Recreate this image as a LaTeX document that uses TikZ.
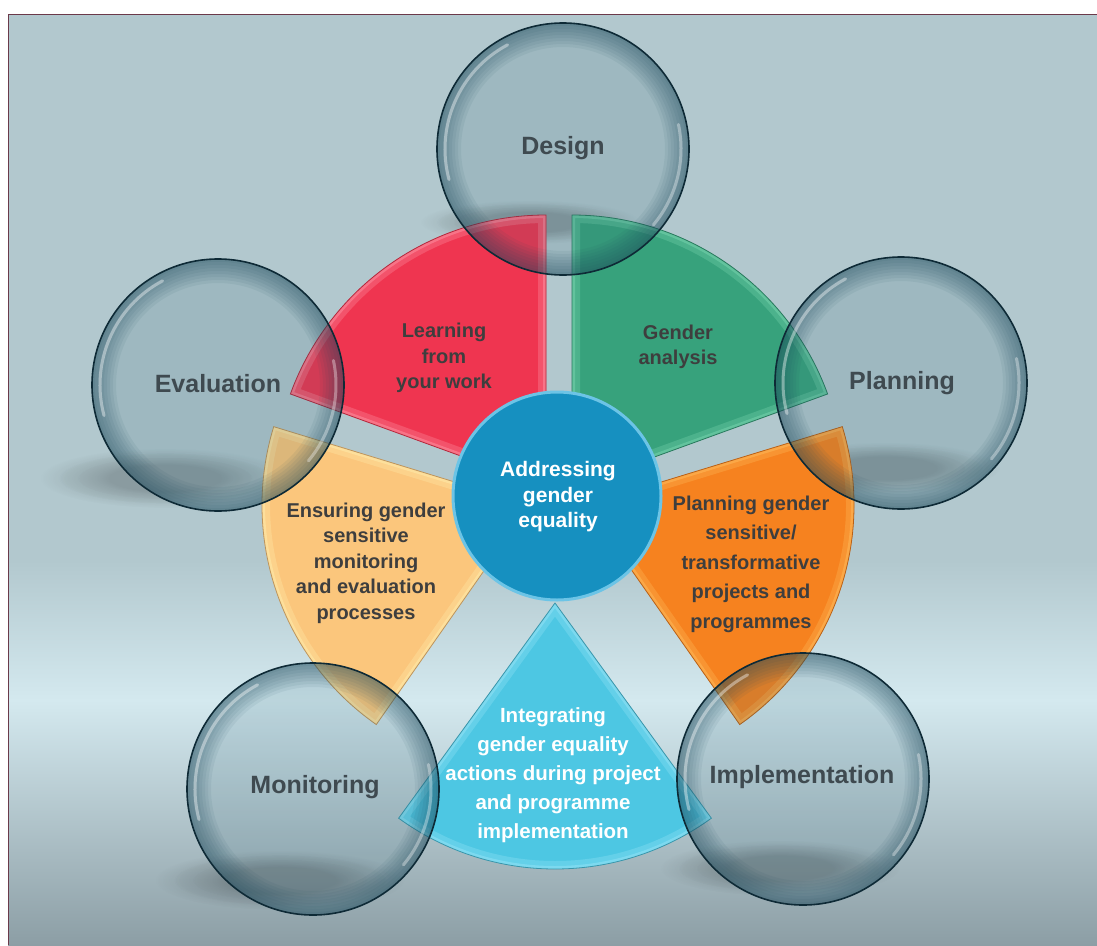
\documentclass[tikz,border=0pt]{standalone}
\usepackage{fontspec}
\setmainfont{Liberation Sans}
\usetikzlibrary{fadings}
\definecolor{bgtop}{HTML}{B2C8CE}
\definecolor{bglight}{HTML}{D4E9EF}
\definecolor{bgbot}{HTML}{8C9EA5}
\definecolor{framecol}{HTML}{6B3A4A}
\definecolor{wred}{HTML}{EF3550}
\definecolor{wredl}{HTML}{FF9AAA}
\definecolor{wgreen}{HTML}{37A27C}
\definecolor{wgreenl}{HTML}{7DD9B2}
\definecolor{worange}{HTML}{F6821F}
\definecolor{worangel}{HTML}{FFC060}
\definecolor{wpeach}{HTML}{FBC67C}
\definecolor{wpeachl}{HTML}{FFF0B0}
\definecolor{wcyan}{HTML}{4DC7E3}
\definecolor{wcyanl}{HTML}{9AE6F7}
\definecolor{cblue}{HTML}{1690C0}
\definecolor{cbluel}{HTML}{6CC4E6}
\definecolor{txtdark}{HTML}{3E3E3E}
\definecolor{lbl}{HTML}{3F4A50}
\definecolor{glassfill}{HTML}{2E6275}
\definecolor{glassrim}{HTML}{1E4A5C}
\definecolor{glassline}{HTML}{0E2A36}
\tikzset{
  wtext/.style={align=center, text=txtdark, font=\bfseries\fontsize{20}{25.5}\selectfont},
  wtextwide/.style={align=center, text=txtdark, font=\bfseries\fontsize{20}{29.5}\selectfont},
  ctext/.style={align=center, text=white, font=\bfseries\fontsize{20.5}{29}\selectfont},
  glabel/.style={text=lbl, font=\bfseries\fontsize{25}{30}\selectfont},
  shadowfx/.style={black, opacity=0.06, path fading=circle with fuzzy edge 20 percent}
}
\newcommand\drawwedge[6]{%
  \fill[#5] (#1) -- ++(-#2:#4) arc[start angle=-#2, end angle=-#3, radius=#4] -- cycle;
  \begin{scope}
    \clip (#1) -- ++(-#2:#4) arc[start angle=-#2, end angle=-#3, radius=#4] -- cycle;
    \draw[#6, line width=16, opacity=0.3] (#1) -- ++(-#2:#4) arc[start angle=-#2, end angle=-#3, radius=#4] -- cycle;
    \draw[#6, line width=6, opacity=0.45] (#1) -- ++(-#2:#4) arc[start angle=-#2, end angle=-#3, radius=#4] -- cycle;
  \end{scope}
  \draw[#5!75!black, line width=0.8] (#1) -- ++(-#2:#4) arc[start angle=-#2, end angle=-#3, radius=#4] -- cycle;
}
\newcommand\softshadow[3]{%
  \foreach \s in {1.0,0.85,0.7,0.55} {\fill[shadowfx] (#1) ellipse [x radius={#2*\s}, y radius={#3*\s}];}
}
\newcommand\glassball[1]{%
  \fill[glassfill, opacity=0.15] (#1) circle (126);
  \foreach \w in {3,6,...,24} {\draw[glassrim, opacity=0.07, line width=\w] (#1) circle ({126-\w/2});}
  \draw[white, opacity=0.4, line width=3, line cap=round] (#1) ++(-118:118) arc[start angle=-118, end angle=-195, radius=118];
  \draw[white, opacity=0.35, line width=3, line cap=round] (#1) ++(40:118) arc[start angle=40, end angle=-12, radius=118];
  \draw[glassline, line width=1.6] (#1) circle (126);
}
\begin{document}
\begin{tikzpicture}[x=1pt,y=-1pt]
\useasboundingbox (0,0) rectangle (1097,945);
\fill[white] (0,0) rectangle (1097,945);
% background
\fill[bgtop] (8,14) rectangle (1097,561);
\shade[top color=bgtop, bottom color=bglight] (8,560) rectangle (1097,701);
\shade[top color=bglight, bottom color=bgbot] (8,700) rectangle (1097,945);
\draw[framecol, line width=1.2] (8.5,945) -- (8.5,14.5) -- (1097,14.5);
% shadows
\softshadow{165,478}{125}{30}
\softshadow{530,222}{110}{22}
\softshadow{885,468}{115}{26}
\softshadow{280,880}{125}{30}
\softshadow{780,868}{120}{28}
% wedges
\coordinate (ra) at (546,487);
\coordinate (ga) at (572,487);
\coordinate (oa) at (586,505);
\coordinate (pa) at (530,505);
\coordinate (ca) at (555,603);
\drawwedge{ra}{90}{160}{272}{wred}{wredl}
\drawwedge{ga}{20}{90}{272}{wgreen}{wgreenl}
\drawwedge{oa}{-55}{17}{268}{worange}{worangel}
\drawwedge{pa}{163}{235}{268}{wpeach}{wpeachl}
\drawwedge{ca}{234}{306}{266}{wcyan}{wcyanl}
% centre
\node[circle, fill=cblue, draw=cbluel, line width=3, minimum size=208pt, inner sep=0pt] (core) at (557,496) {};
\node[align=center, text=white, font=\bfseries\fontsize{21}{25.5}\selectfont] (coretext) at (558,497) {Addressing\\gender\\equality};
% wedge texts
\node[wtext] (learning) at (444,358) {Learning\\from\\your work};
\node[wtext] (analysis) at (678,347) {Gender\\analysis};
\node[wtextwide] (planningw) at (751,564) {Planning gender\\sensitive/\\transformative\\projects and\\programmes};
\node[wtext] (ensuring) at (366,563) {Ensuring gender\\sensitive\\monitoring\\and evaluation\\processes};
\node[ctext] (integrating) at (553,775) {Integrating\\gender equality\\actions during project\\and programme\\implementation};
% glass circles
\coordinate (dc) at (563,149);
\coordinate (pc) at (901,383);
\coordinate (ic) at (803,779);
\coordinate (mc) at (313,789);
\coordinate (ec) at (218,385);
\glassball{dc}
\glassball{pc}
\glassball{ic}
\glassball{mc}
\glassball{ec}
\node[glabel] (design) at (563,148) {Design};
\node[glabel] (planning) at (902,383) {Planning};
\node[glabel] (implementation) at (802,777) {Implementation};
\node[glabel] (monitoring) at (315,787) {Monitoring};
\node[glabel] (evaluation) at (218,384) {Evaluation};
\end{tikzpicture}
\end{document}
